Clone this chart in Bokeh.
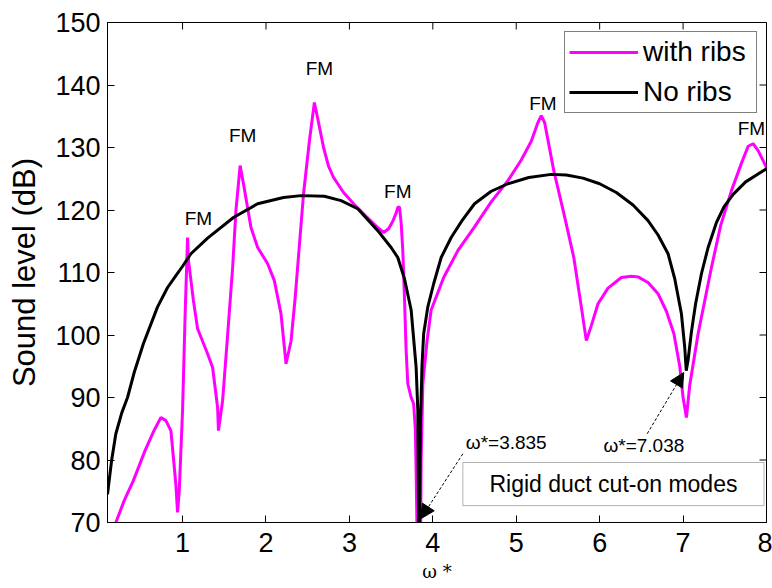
import math
from bokeh.plotting import figure
from bokeh.models import (ColumnDataSource, Range1d, Label, Arrow,
                          NormalHead, BoxAnnotation, Legend, LegendItem, FixedTicker)
from bokeh.embed import file_html
from bokeh.resources import INLINE

# ---------------- data ----------------
x_none = [0.1, 0.15, 0.2, 0.27, 0.34, 0.42, 0.53, 0.7, 0.82, 0.92, 1.0, 1.1, 1.3, 1.61, 1.9,
          2.21, 2.42, 2.7, 2.9, 3.1, 3.34, 3.5, 3.58, 3.66, 3.74, 3.8, 3.82, 3.835,
          3.85, 3.87, 3.89, 3.94, 4.01, 4.1, 4.22, 4.35, 4.5, 4.7, 4.9, 5.15, 5.42,
          5.6, 5.8, 6.0, 6.2, 6.4, 6.58, 6.7, 6.82, 6.9, 6.98, 7.02, 7.038, 7.06,
          7.1, 7.15, 7.22, 7.3, 7.4, 7.49, 7.6, 7.75, 8.0]
y_none = [74.5, 80, 84.2, 87.5, 90, 94, 98.6, 104.5, 107.6, 109.5, 111, 113, 115.5, 118.8, 121,
          122, 122.3, 122.2, 121.5, 120.2, 116.7, 114, 112.4, 109, 104, 94.8, 88, 60,
          85, 95, 100.2, 104.5, 108.2, 112.4, 115.6, 118.3, 121, 123, 124.2, 125.2, 125.7,
          125.6, 125.1, 124.2, 122.8, 120.8, 118.3, 116, 113, 109, 103.4, 98, 94.3, 96,
          100.5, 105, 109.8, 114, 118, 120.5, 122.5, 124.5, 126.6]

x_ribs = [0.15, 0.2, 0.3, 0.41, 0.55, 0.65, 0.74, 0.8, 0.86, 0.89, 0.92, 0.94, 0.96,
          1.0, 1.03, 1.06, 1.07, 1.13, 1.18, 1.3, 1.36, 1.42, 1.43, 1.48, 1.54, 1.6,
          1.64, 1.69, 1.73, 1.82, 1.9, 2.02, 2.1, 2.18, 2.24, 2.3, 2.35, 2.45, 2.52,
          2.58, 2.63, 2.69, 2.75, 2.81, 2.93, 3.05, 3.2, 3.33, 3.41, 3.47, 3.52, 3.56,
          3.58, 3.6, 3.62, 3.64, 3.66, 3.68, 3.7, 3.74, 3.77, 3.79, 3.8, 3.82, 3.85,
          3.86, 3.88, 3.93, 3.98, 4.13, 4.3, 4.5, 4.7, 4.9, 5.06, 5.18, 5.26,
          5.3, 5.34, 5.45, 5.57, 5.69, 5.78, 5.84, 5.9, 5.98, 6.1, 6.26, 6.38, 6.46,
          6.58, 6.7, 6.8, 6.89, 6.96, 7.0, 7.04, 7.08, 7.18, 7.34, 7.45, 7.58, 7.7,
          7.78, 7.84, 7.9, 8.0]
y_ribs = [66, 70, 73.5, 76.7, 81.5, 84.5, 86.8, 86.3, 84.7, 80.4, 76, 71.6, 75,
          88, 103, 115.6, 112, 105.5, 101, 97, 94.8, 88.4, 84.7, 89.5, 100, 110.8,
          120, 127.1, 124.2, 117.2, 114, 111.4, 108.7, 103.4, 95.4, 99, 106, 122.6, 131,
          137.2, 134, 130, 127, 125.2, 122.8, 121, 119, 117.3, 116.4, 117, 118.2, 119.5,
          120.4, 120.5, 118, 113.5, 106, 97.5, 92.2, 90, 89, 85, 78, 60, 60,
          80, 92.2, 99, 104, 109.2, 113.5, 117.3, 121.3, 124.7, 128, 131, 134,
          135.1, 134, 126.3, 119.5, 112.4, 104.5, 99.1, 101.5, 105, 107.5, 109.2, 109.4, 109.3,
          108.4, 106.6, 103.8, 100.2, 95, 90, 86.8, 92, 100.2, 110.8, 117.5, 123.1, 127.5,
          130.2, 130.6, 129.5, 126.8]

x_ticks = [1, 2, 3, 4, 5, 6, 7, 8]
y_ticks = [70, 80, 90, 100, 110, 120, 130, 140, 150]

fm_x = [1.19, 1.72, 2.64, 3.58, 5.32, 7.82]
fm_y = [118.6, 131.9, 142.6, 123.0, 137.0, 133.0]

cut_on = [3.835, 7.038]
cut_on_text = ["\u03c9*=3.835", "\u03c9*=7.038"]

X_MIN, X_MAX = 0.1, 8.0
Y_MIN, Y_MAX = 70, 150

FONT = "Liberation Sans"

p = figure(width=772, height=588, output_backend="svg", toolbar_location=None,
           x_range=Range1d(X_MIN, X_MAX), y_range=Range1d(Y_MIN, Y_MAX),
           min_border_left=107, min_border_right=6, min_border_top=22, min_border_bottom=66,
           background_fill_color="white", border_fill_color="white")
p.xgrid.visible = False
p.ygrid.visible = False
p.outline_line_color = "black"
p.outline_line_width = 1

src_n = ColumnDataSource(dict(x=x_none, y=y_none))
src_r = ColumnDataSource(dict(x=x_ribs, y=y_ribs))
r_r = p.line("x", "y", source=src_r, line_color="#FF00FF", line_width=3)
r_n = p.line("x", "y", source=src_n, line_color="black", line_width=3)

# inward ticks on the top and right frame edges (MATLAB box style)
p.ray(x=x_ticks, y=[Y_MAX] * len(x_ticks), length=7, length_units="screen",
      angle=-math.pi / 2, line_color="black", line_width=1)
p.ray(x=[X_MAX] * len(y_ticks), y=y_ticks, length=7, length_units="screen",
      angle=math.pi, line_color="black", line_width=1)

xa = p.below[0]
ya = p.left[0]
for ax, ticks in ((xa, x_ticks), (ya, y_ticks)):
    ax.ticker = FixedTicker(ticks=ticks)
    ax.major_tick_in = 7
    ax.major_tick_out = 0
    ax.minor_tick_line_color = None
    ax.axis_line_color = "black"
    ax.major_tick_line_color = "black"
    ax.major_label_text_font = FONT
    ax.major_label_text_color = "black"
    ax.major_label_text_font_size = "27px"
    ax.axis_label_text_color = "black"
    ax.axis_label_text_font_style = "normal"

ya.major_label_standoff = 7
xa.major_label_standoff = 10
ya.axis_label = "Sound level (dB)"
ya.axis_label_text_font = FONT
ya.axis_label_text_font_size = "31px"
ya.axis_label_standoff = 10
xa.axis_label = "\u03c9 *"
xa.axis_label_text_font = "DejaVu Serif"
xa.axis_label_text_font_size = "18px"
xa.axis_label_standoff = 6

# FM labels
for fx, fy in zip(fm_x, fm_y):
    p.add_layout(Label(x=fx, y=fy, text="FM", text_font=FONT, text_font_size="19px",
                       text_align="center", text_baseline="middle", text_color="black"))

# cut-on annotations
p.add_layout(Label(x=4.88, y=82.8, text=cut_on_text[0], text_font=FONT, text_font_size="19px",
                   text_align="center", text_baseline="middle", text_color="black"))
p.add_layout(Label(x=6.53, y=82.3, text=cut_on_text[1], text_font=FONT, text_font_size="19px",
                   text_align="center", text_baseline="middle", text_color="black"))
p.add_layout(Arrow(x_start=4.36, y_start=81.0, x_end=cut_on[0] + 0.02, y_end=70.6,
                   line_width=1, line_dash="3 2", line_color="black",
                   end=NormalHead(size=14, fill_color="black", line_color="black")))
p.add_layout(Arrow(x_start=6.57, y_start=84.2, x_end=cut_on[1] - 0.03, y_end=94.0,
                   line_width=1, line_dash="3 2", line_color="black",
                   end=NormalHead(size=14, fill_color="black", line_color="black")))

p.add_layout(BoxAnnotation(left=4.36, right=7.97, bottom=72.7, top=79.6,
                           fill_color="white", fill_alpha=1.0, line_color="black",
                           line_width=1, level="annotation"))
p.add_layout(Label(x=6.165, y=76.15, text="Rigid duct cut-on modes", text_font=FONT,
                   text_font_size="23px", text_align="center", text_baseline="middle",
                   text_color="black", level="annotation"))

legend = Legend(items=[LegendItem(label="with ribs", renderers=[r_r]),
                       LegendItem(label="No ribs", renderers=[r_n])],
                location="top_right", margin=9, padding=4, spacing=8,
                glyph_width=69, glyph_height=26, label_height=26, label_standoff=5,
                label_width=109,
                label_text_font=FONT, label_text_font_size="28px", label_text_color="black",
                border_line_color="black", border_line_width=1,
                background_fill_color="white", background_fill_alpha=1.0)
p.add_layout(legend)

open("out.html", "w").write(file_html(p, INLINE))
